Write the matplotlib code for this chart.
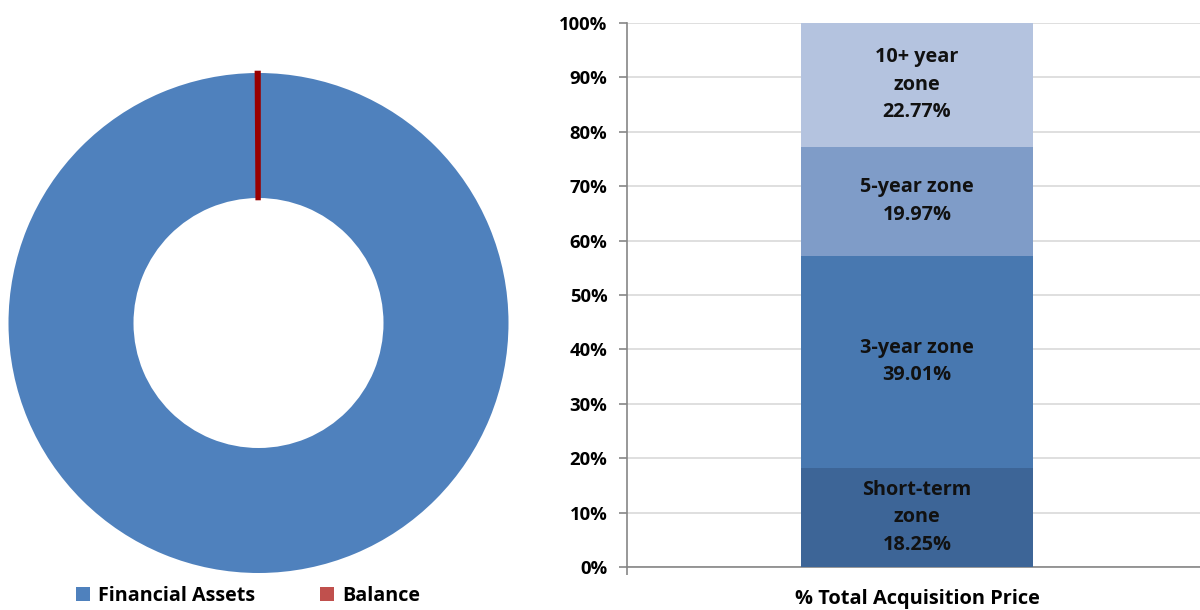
import matplotlib.pyplot as plt
from matplotlib.patches import Patch

plt.rcParams['font.family'] = ['Open Sans', 'DejaVu Sans']
plt.rcParams['font.weight'] = 'bold'

# donut data
pie_labels = ['Financial Assets', 'Balance']
pie_values = [99.9, 0.1]
pie_colors = ['#4F81BD', '#C0504D']

# stacked bar data
bar_category = '% Total Acquisition Price'
zone_names = ['Short-term\nzone', '3-year zone', '5-year zone', '10+ year\nzone']
zone_values = [18.25, 39.01, 19.97, 22.77]
zone_colors = ['#3D6597', '#4878B0', '#7F9CC8', '#B4C3DF']

fig = plt.figure(figsize=(12, 6.1), dpi=100)

# ---- donut ----
ax1 = fig.add_axes([8.5 / 1200, 37 / 610, 500 / 1200, 500 / 610])
wedges, _ = ax1.pie(pie_values, colors=pie_colors, startangle=90, counterclock=False,
                    radius=1, wedgeprops=dict(width=0.5, linewidth=0))
wedges[1].set_facecolor('#990000')
wedges[1].set_edgecolor('#990000')
wedges[1].set_linewidth(3.3)
wedges[1].set_zorder(5)
ax1.set_xlim(-1, 1)
ax1.set_ylim(-1, 1)
ax1.set_aspect('equal')

handles = [Patch(facecolor=c, edgecolor='none') for c in pie_colors]
fig.legend(handles, pie_labels, loc='center', bbox_to_anchor=(248 / 1200, 14 / 610),
           ncol=2, frameon=False, fontsize=14.2, handlelength=0.7, handleheight=0.7,
           handletextpad=0.4, columnspacing=3.3)

# ---- stacked bar ----
ax2 = fig.add_axes([627 / 1200, 43 / 610, 580 / 1200, 544 / 610])
bottom = 0
for name, val, col in zip(zone_names, zone_values, zone_colors):
    ax2.bar(0, val, width=0.4, bottom=bottom, color=col, zorder=3)
    ax2.text(0, bottom + val / 2, f'{name}\n{val:.2f}%', ha='center', va='center',
             fontsize=14.3, fontweight='bold', color='#111111', linespacing=1.5, zorder=4)
    bottom += val

ax2.set_xlim(-0.5, 0.5)
ax2.set_ylim(0, 100)
ax2.set_yticks(range(0, 101, 10))
ax2.set_yticklabels([f'{v}%' for v in range(0, 101, 10)], fontsize=13.3, fontweight='bold')
ax2.yaxis.grid(True, color='#D9D9D9', linewidth=1.2, zorder=0)
ax2.set_xticks([0])
ax2.set_xticklabels([bar_category], fontsize=14.4, fontweight='bold')
ax2.tick_params(axis='x', length=0, pad=16)
ax2.set_xticks([-0.5, 0.5], minor=True)
ax2.tick_params(axis='x', which='minor', length=6, color='#868686', width=1.2)
ax2.tick_params(axis='y', length=6, color='#868686', width=1.2, pad=8)
for s in ['top', 'right']:
    ax2.spines[s].set_visible(False)
for s in ['left', 'bottom']:
    ax2.spines[s].set_color('#868686')
    ax2.spines[s].set_linewidth(1.2)

fig.savefig('out.png', dpi=100)
